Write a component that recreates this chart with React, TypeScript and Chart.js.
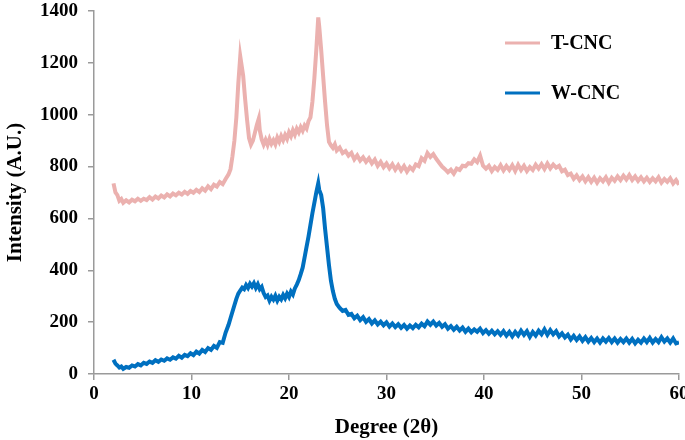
import React, { useEffect, useRef } from "react";
import { Chart, registerables } from "chart.js";

Chart.register(...registerables);

const seriesNames = ["T-CNC", "W-CNC"];
const xTicks = [0, 10, 20, 30, 40, 50, 60];
const yTicks = [0, 200, 400, 600, 800, 1000, 1200, 1400];

const tDeg = [
  2.0, 2.2, 2.4, 2.6, 2.8, 3.0, 3.3, 3.6, 3.9, 4.2, 4.5, 4.8, 5.1, 5.4, 5.7, 6.0, 6.3, 6.6, 6.9, 7.2,
  7.5, 7.8, 8.1, 8.4, 8.7, 9.0, 9.3, 9.6, 9.9, 10.2, 10.5, 10.8, 11.1, 11.4, 11.7, 12.0, 12.3, 12.6, 12.9, 13.2,
  13.5, 13.8, 14.0, 14.2, 14.4, 14.6, 14.8, 15.0, 15.1, 15.3, 15.5, 15.7, 15.9, 16.1, 16.3, 16.5, 16.7, 16.9, 17.0, 17.2,
  17.4, 17.6, 17.8, 18.0, 18.2, 18.4, 18.6, 18.8, 19.0, 19.2, 19.4, 19.6, 19.8, 20.0, 20.2, 20.4, 20.6, 20.8, 21.0, 21.2,
  21.4, 21.6, 21.8, 22.0, 22.2, 22.4, 22.6, 22.8, 23.0, 23.1, 23.3, 23.5, 23.7, 23.9, 24.1, 24.3, 24.5, 24.7, 24.9, 25.2,
  25.5, 25.8, 26.1, 26.4, 26.7, 27.0, 27.3, 27.6, 27.9, 28.2, 28.5, 28.8, 29.1, 29.4, 29.7, 30.0, 30.3, 30.6, 30.9, 31.2,
  31.5, 31.8, 32.1, 32.4, 32.7, 33.0, 33.3, 33.6, 33.9, 34.2, 34.5, 34.8, 35.1, 35.4, 35.7, 36.0, 36.3, 36.6, 36.9, 37.2,
  37.5, 37.8, 38.1, 38.4, 38.7, 39.0, 39.3, 39.6, 39.9, 40.2, 40.5, 40.8, 41.1, 41.4, 41.7, 42.0, 42.3, 42.6, 42.9, 43.2,
  43.5, 43.8, 44.1, 44.4, 44.7, 45.0, 45.3, 45.6, 45.9, 46.2, 46.5, 46.8, 47.1, 47.4, 47.7, 48.0, 48.3, 48.6, 48.9, 49.2,
  49.5, 49.8, 50.1, 50.4, 50.7, 51.0, 51.3, 51.6, 51.9, 52.2, 52.5, 52.8, 53.1, 53.4, 53.7, 54.0, 54.3, 54.6, 54.9, 55.2,
  55.5, 55.8, 56.1, 56.4, 56.7, 57.0, 57.3, 57.6, 57.9, 58.2, 58.5, 58.8, 59.1, 59.4, 59.7, 60.0,
];
const tInt = [
  735, 700, 690, 668, 675, 660, 670, 662, 672, 666, 676, 668, 676, 671, 682, 673, 684, 677, 688, 681,
  693, 685, 696, 689, 699, 692, 703, 695, 706, 699, 710, 702, 716, 707, 724, 713, 730, 723, 740, 732,
  752, 770, 790, 840, 900, 990, 1120, 1225, 1200, 1150, 1060, 980, 910, 885, 900, 930, 960, 985, 940, 905,
  885, 903, 884, 907, 888, 902, 886, 912, 896, 918, 902, 922, 907, 932, 917, 940, 923, 946, 932, 952,
  938, 958, 947, 975, 990, 1050, 1140, 1250, 1375, 1340, 1250, 1150, 1050, 960, 895, 882, 872, 886, 862, 873,
  852, 860, 842, 853, 828, 843, 823, 836, 818, 832, 812, 827, 803, 818, 798, 812, 793, 809, 788, 805,
  785, 802, 781, 798, 787, 808, 802, 832, 822, 852, 837, 848, 830, 815, 800, 790, 778, 788, 773, 792,
  787, 803, 801, 813, 811, 828, 817, 842, 803, 792, 803, 783, 798, 787, 805, 785, 802, 787, 805, 783,
  807, 787, 803, 783, 798, 787, 807, 792, 809, 791, 812, 793, 808, 796, 803, 782, 788, 767, 773, 753,
  766, 748, 762, 743, 759, 741, 757, 738, 755, 743, 759, 738, 757, 745, 762, 748, 765, 750, 767, 748,
  762, 745, 759, 743, 757, 741, 755, 743, 759, 738, 752, 741, 755, 735, 748, 730,
];

const wDeg = [
  2.0, 2.2, 2.4, 2.6, 2.8, 3.0, 3.3, 3.6, 3.9, 4.2, 4.5, 4.8, 5.1, 5.4, 5.7, 6.0, 6.3, 6.6, 6.9, 7.2,
  7.5, 7.8, 8.1, 8.4, 8.7, 9.0, 9.3, 9.6, 9.9, 10.2, 10.5, 10.8, 11.1, 11.4, 11.7, 12.0, 12.3, 12.6, 12.9, 13.2,
  13.5, 13.8, 14.0, 14.2, 14.4, 14.6, 14.8, 15.0, 15.2, 15.4, 15.6, 15.8, 16.0, 16.2, 16.4, 16.6, 16.8, 17.0, 17.2, 17.4,
  17.6, 17.8, 18.0, 18.2, 18.4, 18.6, 18.8, 19.0, 19.2, 19.4, 19.6, 19.8, 20.0, 20.2, 20.4, 20.6, 20.8, 21.0, 21.2, 21.4,
  21.6, 21.8, 22.0, 22.2, 22.4, 22.6, 22.8, 23.0, 23.1, 23.3, 23.5, 23.7, 23.9, 24.1, 24.3, 24.5, 24.7, 24.9, 25.2, 25.5,
  25.8, 26.1, 26.4, 26.7, 27.0, 27.3, 27.6, 27.9, 28.2, 28.5, 28.8, 29.1, 29.4, 29.7, 30.0, 30.3, 30.6, 30.9, 31.2, 31.5,
  31.8, 32.1, 32.4, 32.7, 33.0, 33.3, 33.6, 33.9, 34.2, 34.5, 34.8, 35.1, 35.4, 35.7, 36.0, 36.3, 36.6, 36.9, 37.2, 37.5,
  37.8, 38.1, 38.4, 38.7, 39.0, 39.3, 39.6, 39.9, 40.2, 40.5, 40.8, 41.1, 41.4, 41.7, 42.0, 42.3, 42.6, 42.9, 43.2, 43.5,
  43.8, 44.1, 44.4, 44.7, 45.0, 45.3, 45.6, 45.9, 46.2, 46.5, 46.8, 47.1, 47.4, 47.7, 48.0, 48.3, 48.6, 48.9, 49.2, 49.5,
  49.8, 50.1, 50.4, 50.7, 51.0, 51.3, 51.6, 51.9, 52.2, 52.5, 52.8, 53.1, 53.4, 53.7, 54.0, 54.3, 54.6, 54.9, 55.2, 55.5,
  55.8, 56.1, 56.4, 56.7, 57.0, 57.3, 57.6, 57.9, 58.2, 58.5, 58.8, 59.1, 59.4, 59.7, 60.0,
];
const wInt = [
  55, 40, 33, 25, 29, 20, 27, 24, 33, 29, 38, 33, 43, 39, 48, 43, 53, 47, 56, 51,
  60, 55, 64, 59, 70, 63, 74, 69, 80, 73, 86, 79, 93, 85, 100, 93, 108, 101, 123, 120,
  160, 190, 215, 240, 265, 290, 310, 322, 333, 327, 343, 332, 348, 337, 350, 332, 346, 327, 336, 312,
  297, 303, 283, 298, 287, 302, 283, 298, 288, 305, 292, 310, 297, 318, 307, 330, 345, 362, 385, 410,
  450, 490, 530, 575, 620, 660, 700, 735, 710, 690, 640, 560, 490, 420, 360, 320, 290, 270, 255, 243,
  247, 228, 232, 215, 225, 208, 219, 201, 212, 195, 207, 191, 202, 188, 199, 183, 195, 181, 192, 178,
  189, 175, 187, 177, 190, 180, 194, 184, 202, 190, 202, 187, 197, 182, 192, 175, 185, 171, 182, 168,
  179, 163, 175, 161, 172, 163, 175, 158, 169, 155, 167, 153, 165, 151, 165, 148, 162, 145, 162, 148,
  167, 151, 165, 143, 162, 148, 167, 153, 172, 151, 169, 153, 165, 145, 157, 141, 152, 133, 147, 131,
  145, 128, 142, 125, 139, 123, 137, 121, 137, 125, 139, 123, 137, 121, 135, 123, 137, 121, 135, 118,
  132, 121, 137, 123, 139, 121, 135, 123, 142, 125, 137, 121, 137, 118, 122,
];

const tColor = "#EBB1AF";
const wColor = "#0070C0";
const axisColor = "#9A9A9A";
const fontFamily = "'Liberation Serif', 'Times New Roman', serif";

const legendPlugin = {
  id: "customLegend",
  afterDraw(chart: any) {
    const ctx = chart.ctx;
    const items = [
      { label: seriesNames[0], color: tColor, y: 43 },
      { label: seriesNames[1], color: wColor, y: 93 },
    ];
    ctx.save();
    items.forEach((it) => {
      ctx.strokeStyle = it.color;
      ctx.lineWidth = 3;
      ctx.beginPath();
      ctx.moveTo(505, it.y);
      ctx.lineTo(540, it.y);
      ctx.stroke();
      ctx.fillStyle = "#000";
      ctx.font = `bold 20px ${fontFamily}`;
      ctx.textBaseline = "middle";
      ctx.textAlign = "left";
      ctx.fillText(it.label, 551, it.y + 1);
    });
    ctx.restore();
  },
};

export default function App() {
  const ref = useRef<HTMLCanvasElement>(null);
  useEffect(() => {
    const canvas = ref.current;
    if (!canvas) return;
    const chart = new Chart(canvas, {
      type: "line",
      data: {
        datasets: [
          {
            label: seriesNames[0],
            data: tDeg.map((x, i) => ({ x, y: tInt[i] })),
            borderColor: tColor,
            borderWidth: 4,
            pointRadius: 0,
            tension: 0,
            fill: false,
          },
          {
            label: seriesNames[1],
            data: wDeg.map((x, i) => ({ x, y: wInt[i] })),
            borderColor: wColor,
            borderWidth: 4,
            pointRadius: 0,
            tension: 0,
            fill: false,
          },
        ],
      },
      options: {
        animation: false,
        responsive: false,
        maintainAspectRatio: false,
        events: [],
        layout: { padding: { left: 0, right: 6, top: 11, bottom: 0 } },
        plugins: { legend: { display: false }, tooltip: { enabled: false } },
        scales: {
          x: {
            type: "linear",
            min: 0,
            max: 60,
            afterBuildTicks: (s: any) => {
              s.ticks = xTicks.map((v) => ({ value: v }));
            },
            afterFit: (s: any) => {
              s.height = 66;
              s.paddingLeft = 0;
              s.paddingRight = 0;
            },
            border: { color: axisColor, width: 1.5 },
            grid: { drawOnChartArea: false, color: axisColor, tickLength: 6, lineWidth: 1.5 },
            ticks: {
              color: "#000",
              padding: 3,
              maxRotation: 0,
              callback: (v: any) => String(v),
              font: { family: fontFamily, size: 19, weight: "bold" },
            },
            title: {
              display: true,
              text: "Degree (2θ)",
              color: "#000",
              padding: { top: 4, bottom: 0 },
              font: { family: fontFamily, size: 21, weight: "bold" },
            },
          },
          y: {
            min: 0,
            max: 1400,
            afterBuildTicks: (s: any) => {
              s.ticks = yTicks.map((v) => ({ value: v }));
            },
            afterFit: (s: any) => {
              s.width = 94;
              s.paddingTop = 0;
              s.paddingBottom = 0;
            },
            border: { color: axisColor, width: 1.5 },
            grid: { drawOnChartArea: false, color: axisColor, tickLength: 6, lineWidth: 1.5 },
            ticks: {
              color: "#000",
              padding: 10,
              callback: (v: any) => String(v),
              font: { family: fontFamily, size: 19, weight: "bold" },
            },
            title: {
              display: true,
              text: "Intensity (A.U.)",
              color: "#000",
              padding: { top: 3, bottom: 2 },
              font: { family: fontFamily, size: 21, weight: "bold" },
            },
          },
        },
      },
      plugins: [legendPlugin],
    } as any);
    return () => chart.destroy();
  }, []);
  return (
    <div style={{ position: "fixed", left: 0, top: 0, width: 685, height: 440, background: "#fff" }}>
      <canvas ref={ref} width={685} height={440} style={{ display: "block", width: 685, height: 440 }} />
    </div>
  );
}
